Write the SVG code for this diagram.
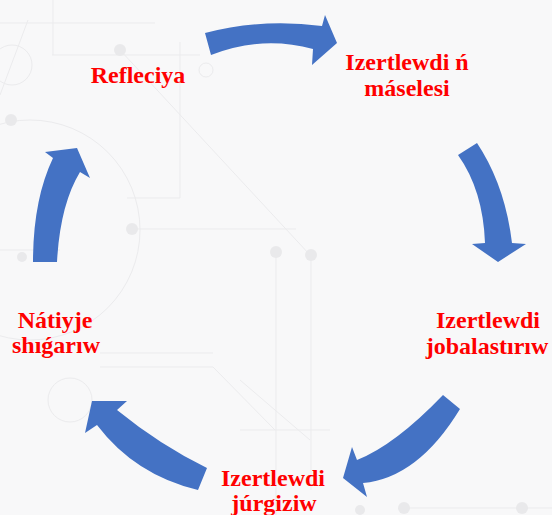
<svg xmlns="http://www.w3.org/2000/svg" width="552" height="515" viewBox="0 0 552 515">
  <style>
    .bgl { stroke: #ebebed; stroke-width: 1; fill: none; }
    .bgd { fill: #e9e9eb; }
    .arrow { fill: #4472C4; }
    .lbl { font-family: "Liberation Serif", "Times New Roman", serif; font-weight: bold; font-size: 24px; fill: #FF0000; text-anchor: middle; }
  </style>
  <rect x="0" y="0" width="552" height="515" fill="#f8f8f9"/>
  <g id="background">
    <path class="bgl" d="M0,23 H155 M53,0 V55 M52,55 H200 M120,50 L310,255 M180,42 V198 M127,198 H180 M132,229 H296 M276,252 V515 M311,255 V490 M0,95 L28,20 M100,353 H213 M100,367 H213 M213,367 L275,430 M240,380 L310,440 M240,430 H330 M404,508 H552 M0,250 H60"/>
    <circle class="bgl" cx="30" cy="230" r="110"/>
    <circle class="bgl" cx="12" cy="65" r="20"/>
    <circle class="bgl" cx="70" cy="400" r="22"/>
    <circle class="bgl" cx="206" cy="70" r="7"/>
    <circle class="bgd" cx="120" cy="50" r="6"/>
    <circle class="bgd" cx="132" cy="229" r="6"/>
    <circle class="bgd" cx="276" cy="252" r="6"/>
    <circle class="bgd" cx="311" cy="255" r="6"/>
    <circle class="bgd" cx="11" cy="120" r="6"/>
    <circle class="bgd" cx="22" cy="257" r="5"/>
    <circle class="bgd" cx="404" cy="508" r="6"/>
    <circle class="bgd" cx="522" cy="508" r="6"/>
    <circle class="bgd" cx="360" cy="510" r="5"/>
  </g>
  <g id="connectors">
    <path class="arrow" d="M205,33 Q262,18 322,26 L325,15 L337,43 L312,65 L313,49 Q262,35 211,55 Z"/>
    <path class="arrow" d="M477,143 Q505,185 512,243 L526,244 L498,262 L472,244 L485,243 Q483,190 458,155 Z"/>
    <path class="arrow" d="M443,395 Q395,445 357,460 L352,447 L343,478 L367,497 L363,483 Q418,478 460,409 Z"/>
    <path class="arrow" d="M207,468 Q160,445 117,410 L127,401 L92,401 L85,433 L97,425 Q135,475 198,490 Z"/>
    <path class="arrow" d="M33,262 Q33,200 53,158 L45,152 L77,148 L90,178 L80,172 Q60,205 57,262 Z"/>
  </g>
  <g id="node-refleciya">
    <text class="lbl" x="138" y="83">Refleciya</text>
  </g>
  <g id="node-maselesi">
    <text class="lbl" x="407" y="70">Izertlewdi ń</text>
    <text class="lbl" x="407" y="96">máselesi</text>
  </g>
  <g id="node-jobalastiriw">
    <text class="lbl" x="488" y="328">Izertlewdi</text>
    <text class="lbl" x="487" y="354">jobalastırıw</text>
  </g>
  <g id="node-jurgiziw">
    <text class="lbl" x="273" y="486">Izertlewdi</text>
    <text class="lbl" x="274" y="511">júrgiziw</text>
  </g>
  <g id="node-natiyje">
    <text class="lbl" x="55" y="328">Nátiyje</text>
    <text class="lbl" x="56" y="353">shıǵarıw</text>
  </g>
</svg>
